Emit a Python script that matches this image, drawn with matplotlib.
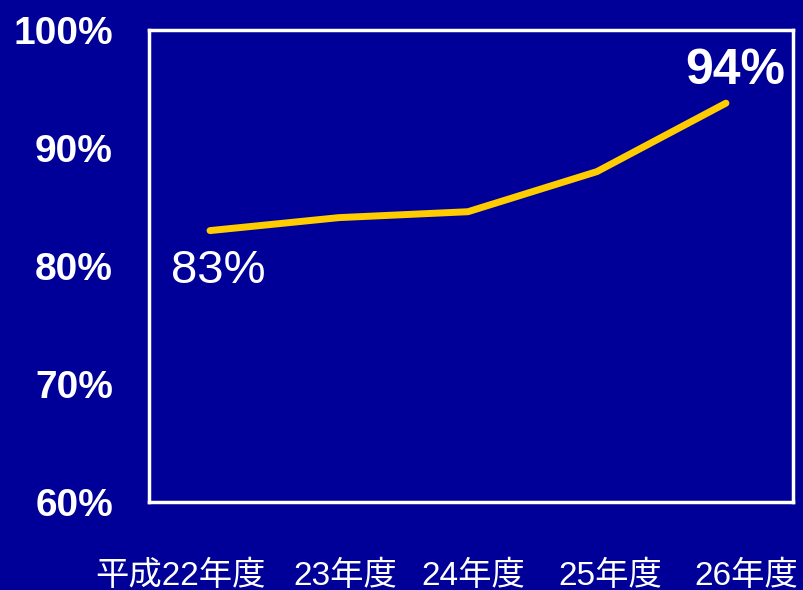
import matplotlib
matplotlib.use("Agg")
import matplotlib.pyplot as plt

categories = ["平成22年度", "23年度", "24年度", "25年度", "26年度"]
values = [83.0, 84.1, 84.6, 88.0, 93.8]
yticks = [60, 70, 80, 90, 100]
ytick_labels = ["60%", "70%", "80%", "90%", "100%"]
first_label = "83%"
last_label = "94%"

BG = "#000099"
LINE = "#FFCC00"

fig = plt.figure(figsize=(8.04, 5.90), dpi=100, facecolor=BG)
ax = fig.add_axes([149/804, 1-502/590, (793-149)/804, (502-30)/590])
ax.set_facecolor(BG)

x = list(range(len(values)))
ax.plot(x, values, color=LINE, lw=5, solid_capstyle="round", solid_joinstyle="round")

ax.set_xlim(-0.473, 4.52)
ax.set_ylim(60, 100)
for s in ax.spines.values():
    s.set_color("white")
    s.set_linewidth(2.5)

ax.set_yticks(yticks)
ax.set_yticklabels(ytick_labels, fontsize=28, fontweight="bold", color="white",
                   family=["Liberation Sans", "DejaVu Sans"])
ax.tick_params(axis="y", length=0, pad=26)

label_pos = [-0.23, 1.05, 2.04, 3.10, 4.16]
ax.set_xticks(label_pos)
ax.set_xticklabels(categories, fontsize=24, color="white",
                   family=["Liberation Sans", "Noto Sans CJK JP"])
ax.tick_params(axis="x", length=0, pad=42)

ax.annotate(first_label, (x[0], values[0]), xytext=(6, -29), textcoords="offset points",
            ha="center", va="center", fontsize=34, color="white",
            family=["Liberation Sans", "DejaVu Sans"])
ax.annotate(last_label, (x[-1], values[-1]), xytext=(7, 23), textcoords="offset points",
            ha="center", va="center", fontsize=36, fontweight="bold", color="white",
            family=["Liberation Sans", "DejaVu Sans"])

fig.savefig("out.png", dpi=100, facecolor=BG)
